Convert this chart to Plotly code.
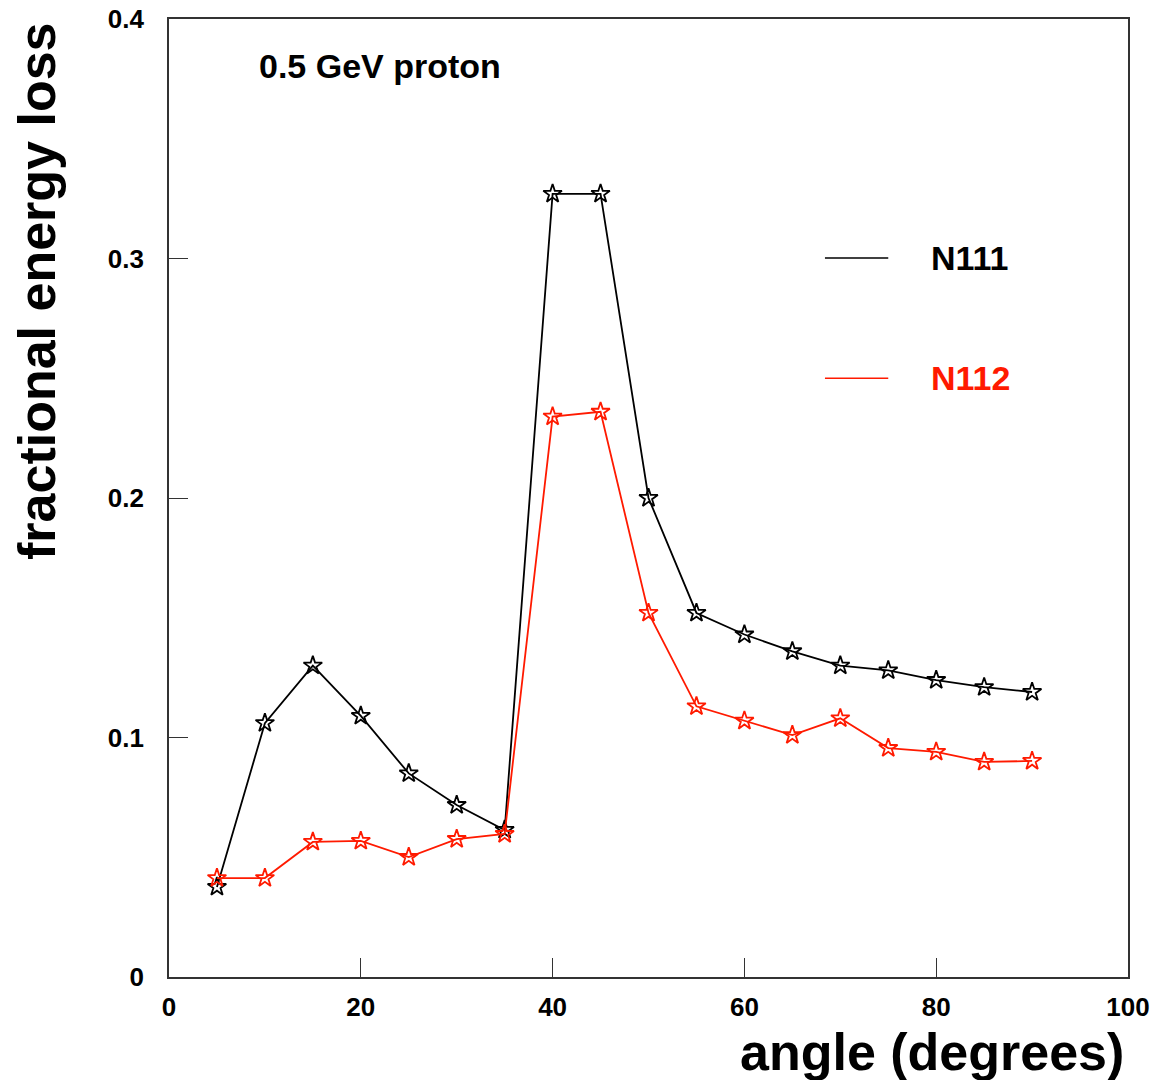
import plotly.graph_objects as go

angles = [5, 10, 15, 20, 25, 30, 35, 40, 45, 50, 55, 60, 65, 70, 75, 80, 85, 90]
n111 = [0.0376, 0.106, 0.130, 0.109, 0.085, 0.0718, 0.0614, 0.327, 0.327, 0.200,
        0.152, 0.143, 0.136, 0.130, 0.128, 0.124, 0.121, 0.119]
n112 = [0.0413, 0.0413, 0.0564, 0.0568, 0.0501, 0.0576, 0.0597, 0.234, 0.236, 0.152,
        0.113, 0.107, 0.101, 0.108, 0.0956, 0.094, 0.0898, 0.0902]
x_ticks = [0, 20, 40, 60, 80, 100]
x_tick_labels = ["0", "20", "40", "60", "80", "100"]
y_ticks = [0, 0.1, 0.2, 0.3, 0.4]
y_tick_labels = ["0", "0.1", "0.2", "0.3", "0.4"]
series_names = ["N111", "N112"]
series_colors = ["black", "#ff1a00"]

FONT = "Liberation Sans, Arial, Helvetica, sans-serif"

fig = go.Figure()
for name, vals, col in zip(series_names, [n111, n112], series_colors):
    fig.add_trace(go.Scatter(
        x=angles, y=vals, mode="lines+markers", name=name,
        line=dict(color=col, width=1.8),
        marker=dict(symbol="star-open", size=14, color=col, line=dict(width=1.8, color=col)),
        showlegend=False,
    ))

# legend drawn manually (lines + labels)
leg_y = [0.3002, 0.250]
for name, col, yy in zip(series_names, series_colors, leg_y):
    fig.add_shape(type="line", xref="x", yref="y", x0=68.4, x1=75.0, y0=yy, y1=yy,
                  line=dict(color=col, width=1.6))
    fig.add_annotation(x=79.2, y=yy, xref="x", yref="y", text=name, showarrow=False,
                       xanchor="left", yanchor="middle",
                       font=dict(family=FONT, size=34, color=col, weight="bold"))

fig.add_annotation(x=9.18, y=0.3795, xref="x", yref="y", text="0.5 GeV proton",
                   showarrow=False, xanchor="left", yanchor="middle", yshift=2,
                   font=dict(family=FONT, size=34, color="black", weight="bold"))

# axis titles
fig.add_annotation(x=0, y=1, xref="paper", yref="paper", text="fractional energy loss",
                   textangle=-90, showarrow=False, xanchor="center", yanchor="top",
                   xshift=-132, yshift=-1,
                   font=dict(family=FONT, size=52, color="black", weight="bold"))
fig.add_annotation(x=1, y=0, xref="paper", yref="paper", text="angle (degrees)",
                   showarrow=False, xanchor="right", yanchor="middle",
                   xshift=-2, yshift=-75,
                   font=dict(family=FONT, size=52, color="black", weight="bold"))

axis_common = dict(showline=True, linecolor="#333333", linewidth=1.6, mirror=True,
                   ticks="inside", ticklen=19, tickwidth=1.4, tickcolor="#333333",
                   showgrid=False, zeroline=False, automargin=False,
                   ticklabeloverflow="allow",
                   tickfont=dict(family=FONT, size=26, color="black", weight="bold"))

fig.update_xaxes(range=[0, 100], tickvals=x_ticks, ticktext=x_tick_labels,
                 ticklabelstandoff=6, **axis_common)
fig.update_yaxes(range=[0, 0.4], tickvals=y_ticks, ticktext=y_tick_labels,
                 ticklabelstandoff=18, **axis_common)

fig.update_layout(width=1153, height=1080, plot_bgcolor="white", paper_bgcolor="white",
                  margin=dict(l=169, r=25, t=19, b=103, autoexpand=False), showlegend=False)

fig.write_html("out.html",
               config={"displayModeBar": False},
               post_script="document.body.style.margin='0px';"
                           "document.body.style.overflow='hidden';")
